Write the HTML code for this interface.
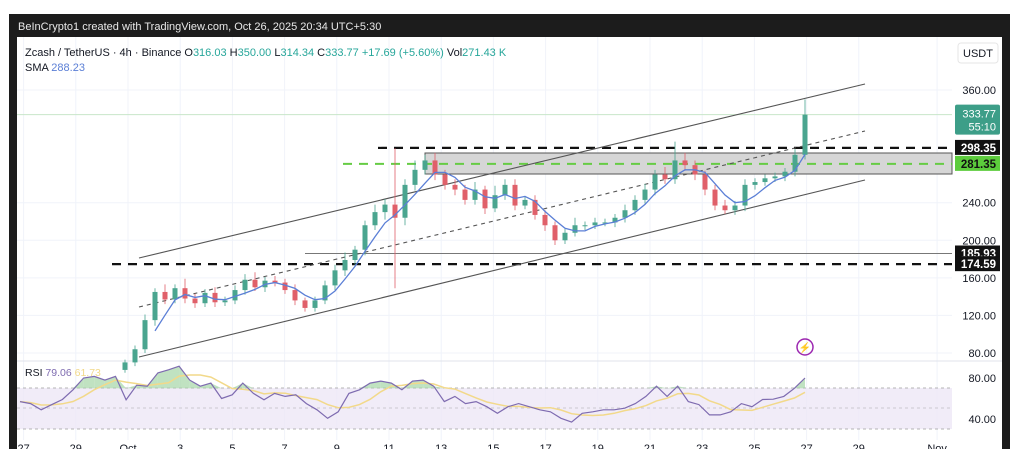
<!DOCTYPE html>
<html><head><meta charset="utf-8"><style>
body{margin:0;background:#fff;width:1024px;height:449px;overflow:hidden;font-family:"Liberation Sans",sans-serif}
svg text{font-family:"Liberation Sans",sans-serif}
</style></head><body>
<svg id="chart" width="1024" height="449" viewBox="0 0 1024 449" xmlns="http://www.w3.org/2000/svg">
<rect x="9" y="14" width="1001" height="440" fill="#1c1c1c"/>
<rect x="17" y="37" width="985" height="412" fill="#ffffff"/>
<text x="18" y="30" font-size="11" fill="#e8e8e8">BeInCrypto1 created with TradingView.com, Oct 26, 2025 20:34 UTC+5:30</text>
<g id="grid"></g>
<rect x="17" y="388" width="935" height="41" fill="#ede7f6" opacity="0.8"/>
<g id="rsiGuides">
<line x1="17" x2="952" y1="388" y2="388" stroke="#9e9e9e" stroke-dasharray="3,3" stroke-width="0.8"/>
<line x1="17" x2="952" y1="408" y2="408" stroke="#9e9e9e" stroke-dasharray="3,3" stroke-width="0.8" opacity="0.6"/>
<line x1="17" x2="952" y1="429" y2="429" stroke="#9e9e9e" stroke-dasharray="3,3" stroke-width="0.8"/>
</g>
<line x1="17" x2="1002" y1="361" y2="361" stroke="#e0e3eb" stroke-width="1"/>
<rect x="425" y="153" width="527" height="21" fill="#d6d6d6" stroke="#555" stroke-width="1"/>
<g id="levels"></g>
<g id="channel"></g>
<g id="candles"></g>
<path id="sma" fill="none" stroke="#5b7fd6" stroke-width="1.3"/>
<g id="rsiFill"></g>
<path id="rsiMa" fill="none" stroke="#f2d98a" stroke-width="1.5"/>
<path id="rsi" fill="none" stroke="#7e6bb0" stroke-width="1.2"/>
<text x="25" y="56" font-size="11" fill="#131722">Zcash / TetherUS · 4h · Binance  <tspan fill="#131722">O</tspan><tspan fill="#26a69a">316.03</tspan>  <tspan>H</tspan><tspan fill="#26a69a">350.00</tspan>  <tspan>L</tspan><tspan fill="#26a69a">314.34</tspan>  <tspan>C</tspan><tspan fill="#26a69a">333.77</tspan>  <tspan fill="#26a69a">+17.69 (+5.60%)</tspan>  <tspan>Vol</tspan><tspan fill="#26a69a">271.43 K</tspan></text>
<text x="25" y="71" font-size="11" fill="#131722">SMA  <tspan fill="#5b7fd6">288.23</tspan></text>
<text x="25" y="376" font-size="10.5" fill="#131722">RSI  <tspan fill="#7e6bb0">79.06</tspan>  <tspan fill="#f2d98a">61.73</tspan></text>
<rect x="958" y="43" width="40" height="20" rx="3" fill="#fff" stroke="#e6e6e6"/>
<text x="978" y="57" font-size="11" fill="#131722" text-anchor="middle">USDT</text>
<g id="axis"></g>
<g id="dates"></g>
<circle cx="805" cy="347" r="8" fill="none" stroke="#9c27b0" stroke-width="1.5"/>
<text x="805" y="351" font-size="10" fill="#9c27b0" text-anchor="middle">⚡</text>
</svg>
<script>
const closes=[70,84,115,145,137,149,138,133,144,134,136,147,158,150,157,155,147,136,128,136,152,168,179,190,216,230,238,224,259,275,285,270,259,254,243,254,234,248,259,237,243,227,216,200,208,216,216,219,219,224,232,243,254,270,265,285,280,270,254,237,232,237,259,262,266,268,273,291,333.77];
const wickHi=[3,4,6,4,8,4,10,5,4,6,4,5,6,8,4,5,4,6,3,4,5,6,8,4,5,8,6,60,6,10,6,8,5,6,5,8,4,10,6,6,4,5,5,4,4,8,4,5,4,4,6,5,6,5,8,20,8,5,4,5,6,5,6,4,4,4,4,6,16.23];
const wickLo=[3,4,4,6,5,4,5,5,4,5,4,4,5,4,5,4,4,5,4,4,4,5,6,5,6,5,8,75,8,6,5,6,5,6,5,5,6,4,5,5,4,5,6,5,4,4,5,4,4,5,5,5,4,6,5,5,6,6,6,5,4,5,6,5,4,4,5,5,5];
const rsiVals=[57,55,49,54,59,68.5,80,81.6,78,81.6,58.7,73,72,85,88,91.5,78,72,75,60,63.6,75,65,58.7,65,62,63.6,55,49,40.7,47,65,68.5,75,77,75,68.5,77,78,72,57,62,55,57,52,45.6,52,55,52,49,47,40.7,37,45.6,47,49,49,50.5,55,62,72,62,72,57,54,44,44,47,55,52,59,59.3,62,70,80];
const priceTicks=[360,240,200,160,120,80];
const rsiTicks=[80,40];
const dateLabels=["27","29","Oct","3","5","7","9","11","13","15","17","19","21","23","25","27","29","Nov"];
const dateDays=[-4,-2,0,2,4,6,8,10,12,14,16,18,20,22,24,26,28,31];
const levelVals=[298.35,281.35,185.93,174.59];

const NS="http://www.w3.org/2000/svg";
function y(p){return 90+(360-p)*0.9393;}
function ry(r){return 378+(80-r)*1.025;}
function cx(i){return 125+i*10;}
function dx(d){return 128+d*26.1;}
function rx(i){return 20+i*(805-20)/(rsiVals.length-1);}
function mk(tag,attrs,parent){const e=document.createElementNS(NS,tag);for(const k in attrs)e.setAttribute(k,attrs[k]);parent.appendChild(e);return e;}

const grid=document.getElementById('grid');
priceTicks.forEach(p=>{const l=mk('line',{x1:17,x2:952,y1:y(p),y2:y(p),stroke:'#f0f3fa'},grid);

});
dateDays.forEach(d=>{const l=mk('line',{x1:dx(d),x2:dx(d),y1:37,y2:440,stroke:'#f0f3fa'},grid);

});

const axis=document.getElementById('axis');
priceTicks.forEach(p=>{const t=mk('text',{x:996,y:y(p)+4,'font-size':11,fill:'#131722','text-anchor':'end'},axis);t.textContent=p.toFixed(2);

});
rsiTicks.forEach(r=>{const t=mk('text',{x:996,y:ry(r)+4,'font-size':11,fill:'#131722','text-anchor':'end'},axis);t.textContent=r.toFixed(2);

});

const dates=document.getElementById('dates');
dateLabels.forEach((s,i)=>{const t=mk('text',{x:dx(dateDays[i]),y:452,'font-size':11,fill:'#131722','text-anchor':'middle'},dates);t.textContent=s;

});

const lv=document.getElementById('levels');
const lvStyle=[{x1:378,c:'#111',w:2.2,da:'9,7'},{x1:343,c:'#66cc44',w:2,da:'9,7'},{x1:305,c:'#777',w:1,da:''},{x1:112,c:'#111',w:2.2,da:'9,7'}];
const lvBox=['#111','#5ccc3c','#111','#111'];
const lvText=['#fff','#111','#fff','#fff'];
levelVals.forEach((v,i)=>{const s=lvStyle[i];
const l=mk('line',{x1:s.x1,x2:952,y1:y(v),y2:y(v),stroke:s.c,'stroke-width':s.w,'stroke-dasharray':s.da},lv);


const r=mk('rect',{x:955,y:y(v)-8,width:45,height:15,fill:lvBox[i]},lv);


const t=mk('text',{x:996,y:y(v)+4,'font-size':11.5,'font-weight':'bold',fill:lvText[i],'text-anchor':'end'},lv);t.textContent=v.toFixed(2);

});
const last=closes[closes.length-1];
const lb=mk('rect',{x:955,y:y(last)-10,width:45,height:30,rx:2,fill:'#3d9e88'},lv);


const lt=mk('text',{x:996,y:y(last)+3,'font-size':11,fill:'#fff','text-anchor':'end'},lv);lt.textContent=last.toFixed(2);


const lt2=mk('text',{x:996,y:y(last)+16,'font-size':11,fill:'#fff','text-anchor':'end'},lv);lt2.textContent='55:10';


const ll=mk('line',{x1:17,x2:952,y1:y(last),y2:y(last),stroke:'#c8e6c9','stroke-width':1},lv);



const ch=document.getElementById('channel');
[[258,84,''],[307,131,'4,4'],[357,180,'']].forEach(a=>{const l=mk('line',{x1:139,y1:a[0],x2:865,y2:a[1],stroke:'#555','stroke-width':1.1,'stroke-dasharray':a[2]},ch);

});

const cg=document.getElementById('candles');
closes.forEach((c,i)=>{const o=i?closes[i-1]:c-8;const up=c>=o;const col=up?'#4aa58f':'#e0606a';
const hi=Math.max(o,c)+wickHi[i],lo=Math.min(o,c)-wickLo[i];
const w=mk('line',{x1:cx(i),x2:cx(i),y1:y(hi),y2:y(lo),stroke:col,'stroke-width':1,opacity:0.8},cg);


const top=y(Math.max(o,c)),bot=y(Math.min(o,c));
const b=mk('rect',{x:cx(i)-2.5,y:top,width:5,height:Math.max(1,bot-top),fill:col},cg);

});

let d='';for(let i=3;i<closes.length;i++){const m=(closes[i]+closes[i-1]+closes[i-2]+closes[i-3])/4;d+=(i==3?'M':'L')+cx(i)+','+y(m).toFixed(1);}
document.getElementById('sma').setAttribute('d',d);

let rd='';rsiVals.forEach((r,i)=>{rd+=(i?'L':'M')+rx(i).toFixed(1)+','+ry(r).toFixed(1);});
document.getElementById('rsi').setAttribute('d',rd);
let md='';rsiVals.forEach((r,i)=>{const s=rsiVals.slice(Math.max(0,i-4),i+1);const m=s.reduce((a,b)=>a+b,0)/s.length;md+=(i?'L':'M')+rx(i).toFixed(1)+','+ry(m).toFixed(1);});
document.getElementById('rsiMa').setAttribute('d',md);
const rf=document.getElementById('rsiFill');
for(let i=1;i<rsiVals.length;i++){const a=rsiVals[i-1],b=rsiVals[i];if(a>70||b>70){
const p=mk('polygon',{points:`${rx(i-1)},${ry(Math.max(a,70))} ${rx(i)},${ry(Math.max(b,70))} ${rx(i)},${ry(70)} ${rx(i-1)},${ry(70)}`,fill:'#a5d6a7',opacity:0.7},rf);

}}
</script>
</body></html>
